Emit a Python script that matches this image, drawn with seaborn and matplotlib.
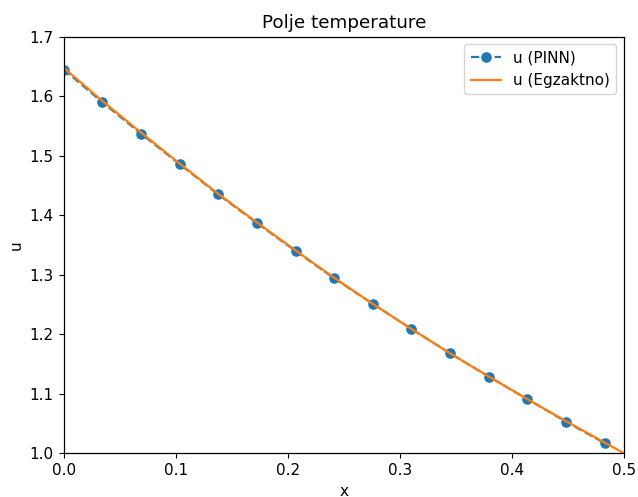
import numpy as np
import pandas as pd
import matplotlib
matplotlib.use("Agg")
import matplotlib.pyplot as plt
import seaborn as sns

# Točke PINN rješenja (očitano sa slike)
x_pinn = [0.0, 0.0345, 0.0690, 0.1034, 0.1379, 0.1724, 0.2069, 0.2414,
          0.2759, 0.3103, 0.3448, 0.3793, 0.4138, 0.4483, 0.4828]
u_pinn = [1.645, 1.590, 1.537, 1.486, 1.435, 1.387, 1.340, 1.294,
          1.251, 1.209, 1.168, 1.129, 1.091, 1.053, 1.017]

# Egzaktno rješenje
x_egz = [0.0, 0.0345, 0.0690, 0.1034, 0.1379, 0.1724, 0.2069, 0.2414,
         0.2759, 0.3103, 0.3448, 0.3793, 0.4138, 0.4483, 0.4828, 0.5]
u_egz = [1.648, 1.592, 1.539, 1.487, 1.436, 1.388, 1.341, 1.295,
         1.251, 1.209, 1.168, 1.129, 1.091, 1.054, 1.018, 1.000]

df_pinn = pd.DataFrame({"x": x_pinn, "u": u_pinn})
df_egz = pd.DataFrame({"x": x_egz, "u": u_egz})

# slika je malo uvećana u odnosu na zadane postavke
plt.rcParams["font.size"] = 11
plt.rcParams["axes.linewidth"] = 0.9
plt.rcParams["xtick.major.size"] = 3.8
plt.rcParams["ytick.major.size"] = 3.8

fig, ax = plt.subplots(figsize=(6.38, 4.97), dpi=100)
fig.subplots_adjust(left=0.100, right=0.978, top=0.926, bottom=0.088)

sns.lineplot(data=df_pinn, x="x", y="u", ax=ax, color="#1f77b4",
             linestyle="--", linewidth=1.6, marker="o", markersize=6.6,
             markeredgecolor="#1f77b4", markeredgewidth=1, label="u (PINN)")
sns.lineplot(data=df_egz, x="x", y="u", ax=ax, color="#ff7f0e",
             linewidth=1.6, label="u (Egzaktno)")

ax.set_xlim(0, 0.5)
ax.set_ylim(1.0, 1.7)
ax.set_title("Polje temperature")
ax.set_xlabel("x")
ax.set_ylabel("u")
ax.legend(loc="upper right")

plt.savefig("out.png", dpi=100)
plt.close()
